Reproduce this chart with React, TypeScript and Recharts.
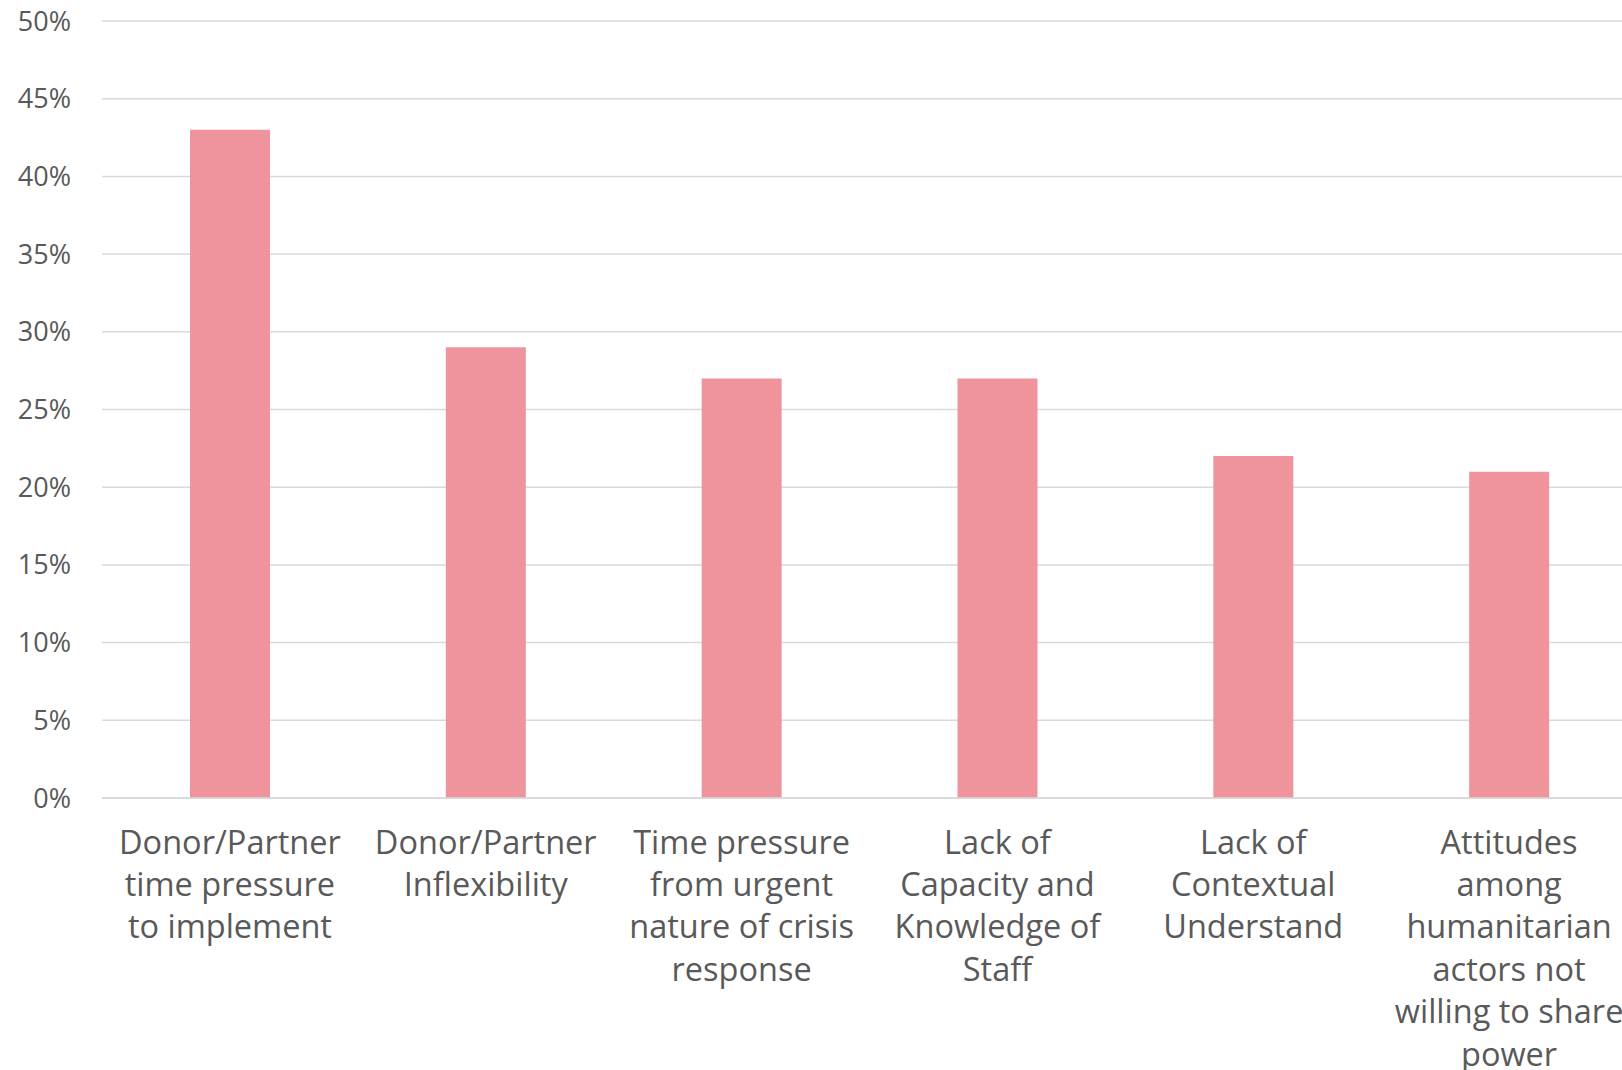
import { BarChart, Bar, XAxis, YAxis, CartesianGrid } from "recharts";

const CATEGORIES = [
  "Donor/Partner\ntime pressure\nto implement",
  "Donor/Partner\nInflexibility",
  "Time pressure\nfrom urgent\nnature of crisis\nresponse",
  "Lack of\nCapacity and\nKnowledge of\nStaff",
  "Lack of\nContextual\nUnderstand",
  "Attitudes\namong\nhumanitarian\nactors not\nwilling to share\npower",
];

const VALUES = [43, 29, 27, 27, 22, 21];

const Y_TICKS = [0, 5, 10, 15, 20, 25, 30, 35, 40, 45, 50];

const PINK = "#EF949C";
const GRID = "#d9d9d9";
const TEXT = "#595959";
const FONT = "'Open Sans', Lato, sans-serif";

const data = CATEGORIES.map((name, i) => ({ name, value: VALUES[i] }));

function CategoryTick(props: any): React.ReactNode {
  const { x, y, payload } = props;
  const lines = String(payload.value).split("\n");
  return (
    <g>
      {lines.map((line, i) => (
        <text
          key={i}
          x={x}
          y={y + 35 + i * 42.4}
          textAnchor="middle"
          dominantBaseline="central"
          fill={TEXT}
          fontSize={32.5}
          fontFamily={FONT}
        >
          {line}
        </text>
      ))}
    </g>
  );
}

export default function App(): React.ReactNode {
  return (
    <div style={{ width: 1622, height: 1070, overflow: "hidden", background: "#fff", position: "absolute", left: 0, top: 0 }}>
      <BarChart
        width={1640}
        height={1070}
        data={data}
        margin={{ top: 21, right: 3, left: 0, bottom: 0 }}
      >
        <CartesianGrid vertical={false} stroke={GRID} strokeWidth={1.5} />
        <XAxis
          dataKey="name"
          interval={0}
          tickLine={false}
          axisLine={{ stroke: GRID, strokeWidth: 1.5 }}
          height={272}
          tick={<CategoryTick />}
        />
        <YAxis
          domain={[0, 50]}
          ticks={Y_TICKS}
          tickFormatter={(v: number) => `${v}%`}
          axisLine={false}
          tickLine={false}
          width={102}
          tickMargin={25}
          tick={{ fill: TEXT, fontSize: 27, fontFamily: FONT }}
        />
        <Bar dataKey="value" fill={PINK} barSize={80} isAnimationActive={false} />
      </BarChart>
    </div>
  );
}
